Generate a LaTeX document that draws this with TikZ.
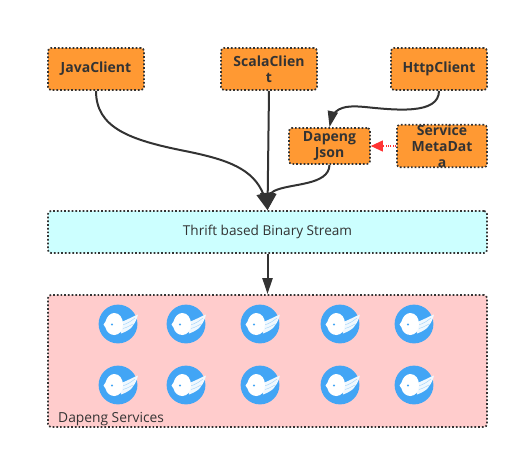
\documentclass[tikz,border=0pt]{standalone}
\usepackage{fontspec}
\setmainfont{Open Sans}
\usetikzlibrary{arrows.meta,bending}
\definecolor{boxorange}{HTML}{FF9933}
\definecolor{boxcyan}{HTML}{CCFFFF}
\definecolor{boxpink}{HTML}{FFCCCC}
\definecolor{inkgray}{HTML}{333333}
\definecolor{logoblue}{HTML}{42A5F5}
\definecolor{metared}{HTML}{FF3333}
\tikzset{
  dotbox/.style={draw=inkgray, line width=1.7pt, dash pattern=on 1.7pt off 2pt, rounded corners=3pt, inner sep=0pt, align=center, text=inkgray},
  clientbox/.style={dotbox, fill=boxorange, font=\bfseries\fontsize{14}{15.8}\selectfont},
  layerbox/.style={dotbox, font=\fontsize{13.6}{16}\selectfont},
  flow/.style={draw=inkgray, line width=2pt, -{Triangle[length=17pt,width=15pt,flex=0.6]}},
  flowsmall/.style={draw=inkgray, line width=2pt, -{Triangle[length=16pt,width=10pt,flex=0.6]}},
  metaflow/.style={draw=metared, line width=1.1pt, dash pattern=on 1pt off 1.4pt, -{Triangle[length=12pt,width=11pt,flex,sep=0pt]}},
  birdlogo/.pic={
    \fill[logoblue] (0,0) circle (19.4);
    \fill[white!92!logoblue] (1,-1.5) .. controls (8,-3) and (15,-8) .. (20,-9.5)
      .. controls (19,-5) and (17,-1) .. (15.5,0.5) .. controls (14,4) and (10,7) .. (3,9.5) -- cycle;
    \draw[logoblue!50!white, line width=0.4pt] (4,1) .. controls (9,0) and (13,-3) .. (17,-6);
    \draw[logoblue!50!white, line width=0.4pt] (5,4.5) .. controls (9,3.5) and (12,1.5) .. (15,0);
    \fill[white] (-14.5,0.5) -- (-12.5,-2.5) .. controls (-11,-8) and (-7.5,-11) .. (-3.5,-11)
      .. controls (1.5,-11) and (5,-6) .. (5,0) .. controls (5,6) and (1.5,11) .. (-3.5,11)
      .. controls (-8,11) and (-11.5,8) .. (-12.5,3.5) -- cycle;
    \fill[logoblue] (-6,0.5) circle (1.1);
  }
}
\begin{document}
\begin{tikzpicture}[x=1pt, y=-1pt]
      \useasboundingbox (0,0) rectangle (519,458);
      \node[clientbox, minimum width=96pt, minimum height=42pt] (JavaClient) at (96,69) {JavaClient};
      \node[clientbox, minimum width=96pt, minimum height=42pt] (ScalaClient) at (269,69) {ScalaClien\\t};
      \node[clientbox, minimum width=96pt, minimum height=42pt] (HttpClient) at (439,69) {HttpClient};
      \node[clientbox, minimum width=81pt, minimum height=36pt] (DapengJson) at (329.5,146) {Dapeng\\Json};
      \node[clientbox, minimum width=90pt, minimum height=36pt] (MetaData) at (442,146) {Service\\MetaDat\\a};
      \node[layerbox, fill=boxcyan, minimum width=439pt, minimum height=42pt] (BinaryStream) at (267.5,232) {Thrift based Binary Stream};
      \node[layerbox, fill=boxpink, minimum width=439pt, minimum height=132pt] (Services) at (267.5,361) {};
      \node[anchor=west, inner sep=0pt, text=inkgray, font=\fontsize{13.8}{16}\selectfont] (ServicesLabel) at (58,419) {Dapeng Services};
      \pic at (118,324) {birdlogo};
      \pic at (186,324) {birdlogo};
      \pic at (260,324) {birdlogo};
      \pic at (340,324) {birdlogo};
      \pic at (414,324) {birdlogo};
      \pic at (118,385) {birdlogo};
      \pic at (186,385) {birdlogo};
      \pic at (260,385) {birdlogo};
      \pic at (340,385) {birdlogo};
      \pic at (414,385) {birdlogo};
      \draw[flow] (JavaClient.south) .. controls (96,128) and (130,140) .. (185,151) .. controls (235,161) and (262,172) .. (BinaryStream.north);
      \draw[flow] (ScalaClient.south) -- (BinaryStream.north);
      \draw[flow] (DapengJson.south) .. controls (329,186) and (290,183) .. (274,191) .. controls (270,193) and (267.5,198) .. (BinaryStream.north);
      \draw[flowsmall] (HttpClient.south) .. controls (439,115) and (395,110) .. (365,107) .. controls (345,105) and (331,107) .. (DapengJson.north);
      \draw[metaflow] (MetaData.west) -- (DapengJson.east);
      \draw[flowsmall] (BinaryStream.south) -- (Services.north);
\end{tikzpicture}
\end{document}
